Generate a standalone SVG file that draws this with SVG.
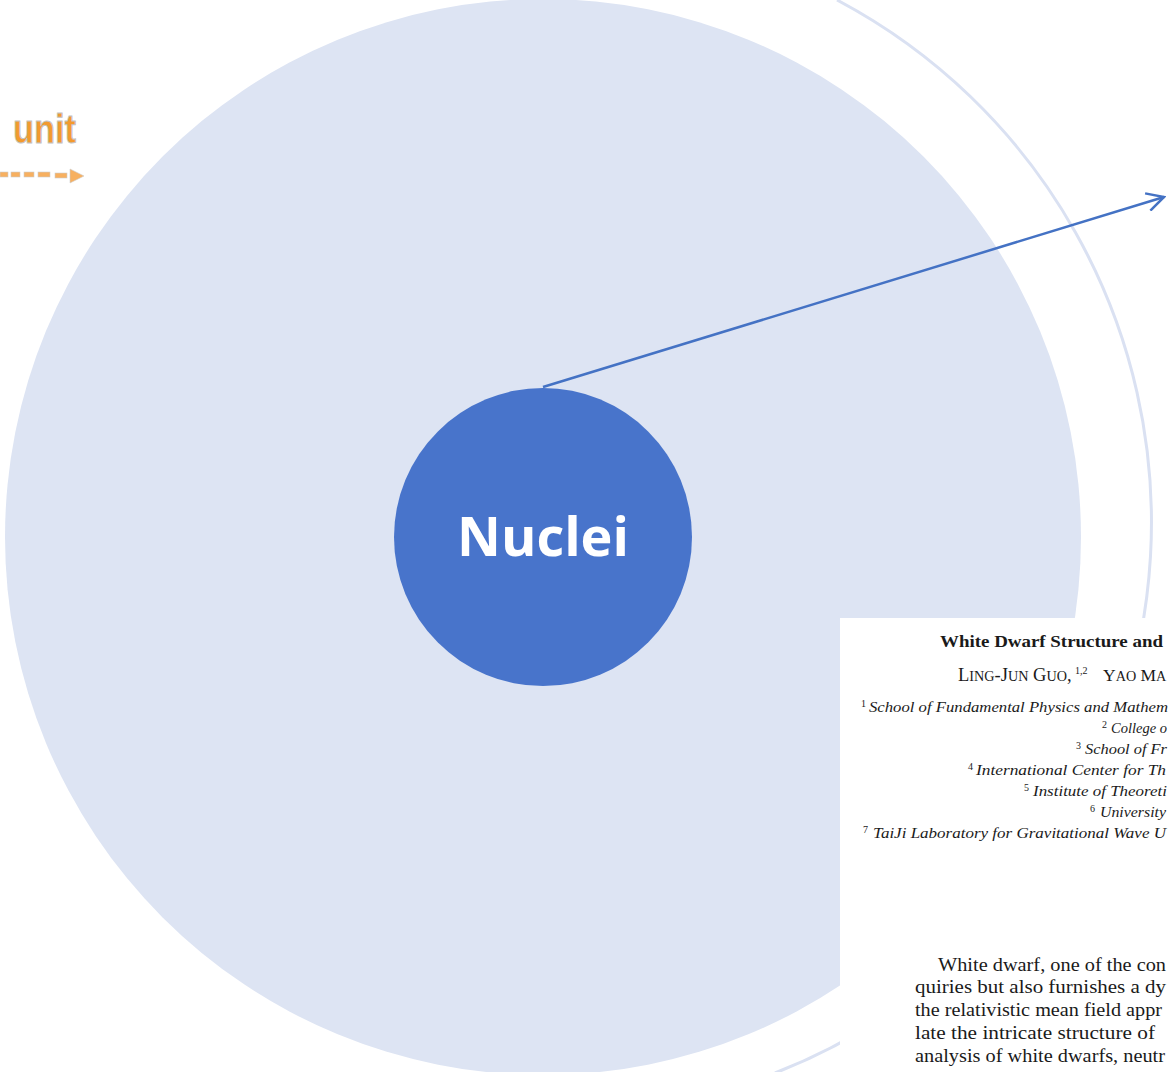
<svg xmlns="http://www.w3.org/2000/svg" width="1168" height="1072" viewBox="0 0 1168 1072">
<defs>
<style>
.serif{font-family:"Liberation Serif","DejaVu Serif",serif;fill:#1a1a1a}
.aff{font-size:15px;font-style:italic}
.body{font-size:18.5px}
.sup{font-size:10px}
.sc{font-size:14.2px}
</style>
<marker id="arr" viewBox="0 0 20 20" refX="18" refY="10" markerWidth="20" markerHeight="20" markerUnits="userSpaceOnUse" orient="auto">
<path d="M1,1 L18,10 L1,19" fill="none" stroke="#4472c4" stroke-width="2.5"/>
</marker>
</defs>
<rect width="1168" height="1072" fill="#ffffff"/>
<g id="outer-ring">
<path d="M837,0 A591,591 0 0 1 775,1073" fill="none" stroke="#dae1f2" stroke-width="3"/>
</g>
<g id="big-circle">
<circle cx="543" cy="537" r="538" fill="#dde4f3"/>
</g>
<g id="logo">
<text x="13" y="143" textLength="63" lengthAdjust="spacingAndGlyphs" font-family="Liberation Sans, Arial, sans-serif" font-weight="bold" font-size="40" fill="#f39a2e" stroke="#c4c4c4" stroke-width="1">unit</text>
<g fill="#f7b060" stroke="#cccccc" stroke-width="0.6">
<rect x="0" y="172" width="8" height="5"/>
<rect x="11" y="172" width="9" height="5"/>
<rect x="24" y="172" width="10" height="5"/>
<rect x="38" y="172" width="12" height="5"/>
<rect x="55" y="173" width="12" height="5"/>
<path d="M70,169 L84,176 L70,183 Z"/>
</g>
</g>
<g id="connectors">
<line x1="543" y1="387" x2="1164" y2="197" stroke="#4472c4" stroke-width="2.5" marker-end="url(#arr)"/>
</g>
<g id="nuclei">
<circle cx="543" cy="537" r="149" fill="#4874cb"/>
<text x="543" y="556" text-anchor="middle" font-family="Open Sans, Noto Sans, sans-serif" font-weight="bold" font-size="54" fill="#ffffff">Nuclei</text>
</g>
<g id="paper">
<rect x="840" y="618" width="340" height="460" fill="#ffffff"/>
<text class="serif" x="940" y="647" font-size="17" font-weight="bold" textLength="223" lengthAdjust="spacingAndGlyphs">White Dwarf Structure and</text>
<text class="serif" x="958" y="681" font-size="18.5">L<tspan class="sc">ING</tspan>-J<tspan class="sc">UN</tspan> G<tspan class="sc">UO</tspan>,</text>
<text class="serif sup" x="1075" y="674">1,2</text>
<text class="serif" x="1103" y="681" font-size="17.5">Y<tspan class="sc">AO</tspan> M<tspan class="sc">A</tspan></text>
<text class="serif sup" x="861" y="707">1</text>
<text class="serif aff" x="869" y="712" textLength="299" lengthAdjust="spacingAndGlyphs">School of Fundamental Physics and Mathem</text>
<text class="serif sup" x="1102" y="728">2</text>
<text class="serif aff" x="1111" y="733" textLength="56" lengthAdjust="spacingAndGlyphs">College o</text>
<text class="serif sup" x="1076" y="749">3</text>
<text class="serif aff" x="1085" y="754" textLength="82" lengthAdjust="spacingAndGlyphs">School of Fr</text>
<text class="serif sup" x="968" y="770">4</text>
<text class="serif aff" x="976" y="775" textLength="190" lengthAdjust="spacingAndGlyphs">International Center for Th</text>
<text class="serif sup" x="1024" y="791">5</text>
<text class="serif aff" x="1033" y="796" textLength="134" lengthAdjust="spacingAndGlyphs">Institute of Theoreti</text>
<text class="serif sup" x="1090" y="812">6</text>
<text class="serif aff" x="1100" y="817" textLength="66" lengthAdjust="spacingAndGlyphs">University</text>
<text class="serif sup" x="863" y="833">7</text>
<text class="serif aff" x="873" y="838" textLength="293" lengthAdjust="spacingAndGlyphs">TaiJi Laboratory for Gravitational Wave U</text>
<text class="serif body" x="938" y="971" textLength="228" lengthAdjust="spacingAndGlyphs">White dwarf, one of the con</text>
<text class="serif body" x="915" y="993" textLength="251" lengthAdjust="spacingAndGlyphs">quiries but also furnishes a dy</text>
<text class="serif body" x="915" y="1016" textLength="247" lengthAdjust="spacingAndGlyphs">the relativistic mean field appr</text>
<text class="serif body" x="915" y="1039" textLength="240" lengthAdjust="spacingAndGlyphs">late the intricate structure of</text>
<text class="serif body" x="915" y="1062" textLength="250" lengthAdjust="spacingAndGlyphs">analysis of white dwarfs, neutr</text>
</g>
</svg>
